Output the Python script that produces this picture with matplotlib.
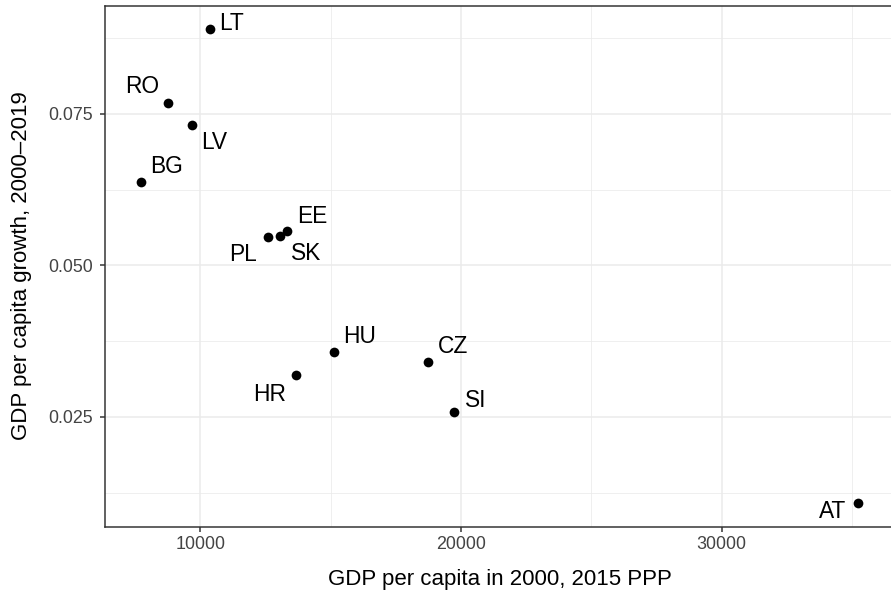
import matplotlib
matplotlib.use("Agg")
import matplotlib.pyplot as plt
from matplotlib.ticker import MultipleLocator

plt.rcParams['font.family'] = ['Liberation Sans', 'DejaVu Sans']

countries = ["LT", "RO", "LV", "BG", "PL", "SK", "EE", "HU", "HR", "CZ", "SI", "AT"]
gdp_2000 = [10352, 8755, 9686, 7709, 12598, 13073, 13341, 15126, 13670, 18728, 19751, 35241]
growth = [0.08898, 0.07686, 0.07318, 0.06378, 0.05475, 0.05487, 0.05564, 0.03573, 0.03188, 0.03413, 0.02583, 0.01081]

# label offsets in pixels (style only)
label_offsets = {
    "LT": (22, 7), "RO": (-26, 17), "LV": (22, -16), "BG": (26, 16),
    "PL": (-25, -17), "SK": (26, -17), "EE": (25, 16), "HU": (26, 16),
    "HR": (-26, -18), "CZ": (25, 16), "SI": (21, 12), "AT": (-26, -8),
}

fig = plt.figure(figsize=(9, 6), dpi=99)
ax = fig.add_axes([104.7 / 891, 1 - 526.6 / 594, (895.2 - 104.7) / 891, (526.6 - 5.6) / 594])

ax.scatter(gdp_2000, growth, s=50, color='black', zorder=3, linewidths=0)
for c, x, y in zip(countries, gdp_2000, growth):
    dx, dy = label_offsets[c]
    ax.annotate(c, (x, y), xytext=(dx, dy - 1), textcoords='offset pixels',
                ha='center', va='center', fontsize=16.5, color='black', zorder=4)

ax.set_xlim(6330, 36660)
ax.set_ylim(0.0069, 0.09289)
ax.xaxis.set_minor_locator(MultipleLocator(5000))
ax.yaxis.set_minor_locator(MultipleLocator(0.0125))
ax.set_yticks([0.025, 0.050, 0.075])
ax.set_yticklabels(["0.025", "0.050", "0.075"])
ax.set_xticks([10000, 20000, 30000])
ax.set_xticklabels(["10000", "20000", "30000"])

ax.grid(which='major', color='#EBEBEB', linewidth=1.1)
ax.grid(which='minor', color='#EBEBEB', linewidth=0.55)
ax.set_axisbelow(True)
for s in ax.spines.values():
    s.set_color('#333333')
    s.set_linewidth(1.1)
ax.tick_params(which='major', length=3.5, width=1.1, color='#333333',
               labelsize=13, labelcolor='#444444', pad=3)
ax.tick_params(axis='y', pad=5)
ax.tick_params(which='minor', length=0)

ax.set_xlabel("GDP per capita in 2000, 2015 PPP", fontsize=16.2, labelpad=12)
ax.set_ylabel("GDP per capita growth, 2000\u20132019", fontsize=16.2, labelpad=12)

fig.savefig("out.png", dpi=99)
